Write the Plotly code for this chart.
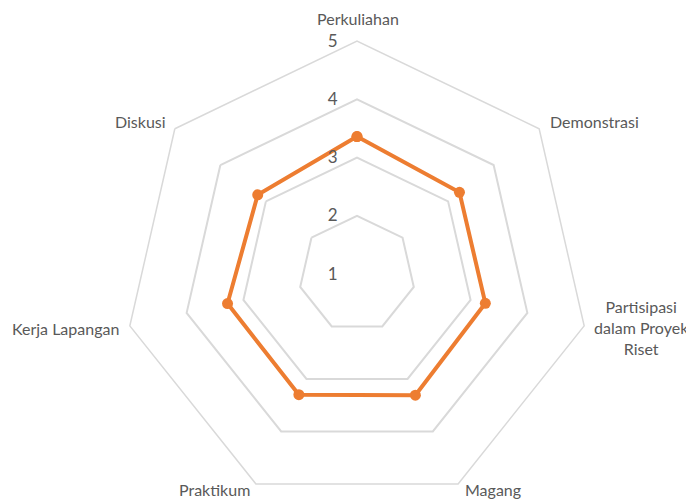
import plotly.graph_objects as go

categories = ["Perkuliahan", "Demonstrasi", "Partisipasi dalam Proyek Riset", "Magang",
              "Praktikum", "Kerja Lapangan", "Diskusi"]
values = [3.36, 3.25, 3.26, 3.31, 3.30, 3.28, 3.18]
radial_ticks = [1, 2, 3, 4, 5]

# label display text (wrapped) and placement in page pixels
label_text = ["Perkuliahan", "Demonstrasi", "Partisipasi<br>dalam Proyek<br>Riset", "Magang",
              "Praktikum", "Kerja Lapangan", "Diskusi"]
label_pos = [(358, 19, "center"), (548, 122, "left"), (641, 327, "center"), (463, 489, "left"),
             (252, 489, "right"), (121, 328, "right"), (168, 122, "right")]

W, H = 694, 500
ML, MR, MT, MB = 4, 0, 33, 1
OFF = 8  # page body offset
PW, PH = W - ML - MR, H - MT - MB


def to_paper(sx, sy):
    return (sx - OFF - ML) / PW, 1 - (sy - OFF - MT) / PH


fig = go.Figure()
fig.add_trace(go.Scatterpolar(
    r=values + values[:1],
    theta=categories + categories[:1],
    mode="lines+markers",
    line=dict(color="#ED7D31", width=4),
    marker=dict(color="#ED7D31", size=11),
    showlegend=False,
    hoverinfo="skip",
))

annotations = []
for txt, (sx, sy, anc) in zip(label_text, label_pos):
    px, py = to_paper(sx, sy)
    annotations.append(dict(
        x=px, y=py, xref="paper", yref="paper", text=txt, showarrow=False,
        xanchor=anc, yanchor="middle", align="center",
        font=dict(family="Lato, Open Sans, sans-serif", size=16, color="#595959"),
    ))

fig.update_layout(
    width=W, height=H,
    margin=dict(l=ML, r=MR, t=MT, b=MB),
    paper_bgcolor="white",
    font=dict(family="Lato, Open Sans, sans-serif", size=16, color="#595959"),
    annotations=annotations,
    polar=dict(
        bgcolor="white",
        gridshape="linear",
        domain=dict(x=[0, 1], y=[0, 1]),
        radialaxis=dict(
            range=[1, 5],
            tickvals=radial_ticks,
            angle=90,
            tickangle=90,
            side="counterclockwise",
            showline=False,
            ticks="outside",
            ticklen=13,
            tickcolor="rgba(0,0,0,0)",
            gridcolor="#D9D9D9",
            gridwidth=1.5,
            tickfont=dict(size=17, color="#595959"),
        ),
        angularaxis=dict(
            rotation=90,
            direction="clockwise",
            showgrid=False,
            showline=True,
            showticklabels=False,
            linecolor="#D9D9D9",
            linewidth=1.5,
            ticks="",
        ),
    ),
)

fig.write_html("out.html")
